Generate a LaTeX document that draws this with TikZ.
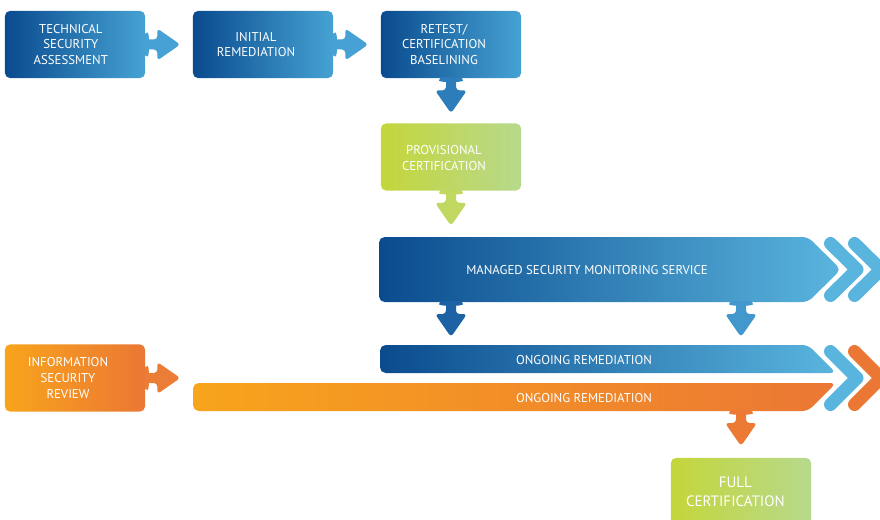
\documentclass[tikz,border=0pt]{standalone}
\usepackage{fontspec}
\setmainfont{PT Sans}
\usetikzlibrary{positioning}

\definecolor{navyD}{HTML}{0A4B8E}
\definecolor{navyM}{HTML}{46A2D4}
\definecolor{skyL}{HTML}{5AB5DE}
\definecolor{limeD}{HTML}{C4D63B}
\definecolor{limeL}{HTML}{B7D98C}
\definecolor{amberD}{HTML}{F8A41C}
\definecolor{amberL}{HTML}{EB7734}

\tikzset{
  jig/.pic={
    \fill[rounded corners=2.4pt] (-1,12) .. controls (3,12) and (4,5) .. (7,5) -- (12,5) -- (12,16)
      -- (35,0) -- (12,-16) -- (12,-5) -- (7,-5) .. controls (4,-5) and (3,-12) .. (-1,-12) -- cycle;
  }
}

\begin{document}
\begin{tikzpicture}[
  x=0.025cm, y=-0.025cm,
  stage/.style={rectangle, rounded corners=3.5pt, minimum width=3.5cm, minimum height=1.675cm,
    inner sep=0pt},
  stagetext/.style={text=white, align=center, inner sep=0pt, xshift=-5pt,
    font=\fontsize{9.1}{11.3}\selectfont},
  bluebox/.style={left color=navyD, right color=navyM},
  greenbox/.style={left color=limeD, right color=limeL},
  orangebox/.style={left color=amberD, right color=amberL},
  barlabel/.style={text=white, inner sep=0pt, font=\fontsize{9.1}{11}\selectfont},
  chev/.style={line width=13*0.025cm, line cap=round, line join=round},
]
  \useasboundingbox (0,0) rectangle (880,519);
  \clip (0,0) rectangle (880,519);

  % Top row
  \node[stage, bluebox, label={[stagetext, xshift=2pt]center:{TECHNICAL\\SECURITY\\ASSESSMENT}}] (tsa) at (75,44.5) {};
  \node[stage, bluebox, label={[stagetext]center:{INITIAL\\REMEDIATION}}] (init) at (263,44.5) {};
  \node[stage, bluebox, label={[stagetext]center:{RETEST/\\CERTIFICATION\\BASELINING}}] (retest) at (451,44.5) {};
  \pic[color=navyM] at (tsa.east) {jig};
  \pic[color=navyM] at (init.east) {jig};
  \pic[color={rgb,255:red,46;green,125;blue,187}, rotate=-90] at (retest.south) {jig};

  % Provisional certification
  \node[stage, greenbox, label={[stagetext, yshift=-0.5pt]center:{PROVISIONAL\\CERTIFICATION}}] (prov) at (451,157) {};
  \pic[color={rgb,255:red,192;green,215;blue,96}, rotate=-90] at (prov.south) {jig};

  % Managed service
  \shade[left color=navyD, right color=skyL, rounded corners=4pt]
    (379,237) -- (808,237) -- (841,269.5) -- (808,302) -- (379,302) -- cycle;
  \node[barlabel] (mss) at (587,270) {MANAGED SECURITY MONITORING SERVICE};
  \coordinate (mssL) at (451,302);
  \coordinate (mssR) at (741,302);
  \pic[color={rgb,255:red,29;green,98;blue,164}, rotate=-90] at (mssL) {jig};
  \pic[color={rgb,255:red,66;green,152;blue,204}, rotate=-90] at (mssR) {jig};
  \draw[chev, skyL] (830.5,243.5) -- (857,269.5) -- (830.5,295.5);
  \draw[chev, skyL] (854.5,243.5) -- (881,269.5) -- (854.5,295.5);

  % Ongoing remediation
  \shade[left color=navyD, right color=skyL, rounded corners=4pt]
    (380,345) -- (808,345) -- (836,373) -- (380,373) -- cycle;
  \node[barlabel] (ongB) at (584,360) {ONGOING REMEDIATION};
  \shade[left color=amberD, right color=amberL, rounded corners=4pt]
    (193,383) -- (836,383) -- (808,411) -- (193,411) -- cycle;
  \node[barlabel] (ongO) at (584,398) {ONGOING REMEDIATION};
  \draw[chev, skyL] (830.5,351.5) -- (857,378) -- (830.5,404.5);
  \draw[chev, amberL] (854.5,351.5) -- (881,378) -- (854.5,404.5);

  % Information security review
  \node[stage, orangebox, label={[stagetext]center:{INFORMATION\\SECURITY\\REVIEW}}] (isr) at (75,378) {};
  \pic[color={rgb,255:red,236;green,125;blue,54}] at (isr.east) {jig};
  \coordinate (ongOut) at (741,411);
  \pic[color={rgb,255:red,236;green,122;blue,53}, rotate=-90] at (ongOut) {jig};

  % Full certification
  \node[stage, greenbox, label={[stagetext, font=\fontsize{10.7}{13.5}\selectfont, xshift=1pt]center:{FULL\\CERTIFICATION}}] (full) at (741,491.5) {};
\end{tikzpicture}
\end{document}
